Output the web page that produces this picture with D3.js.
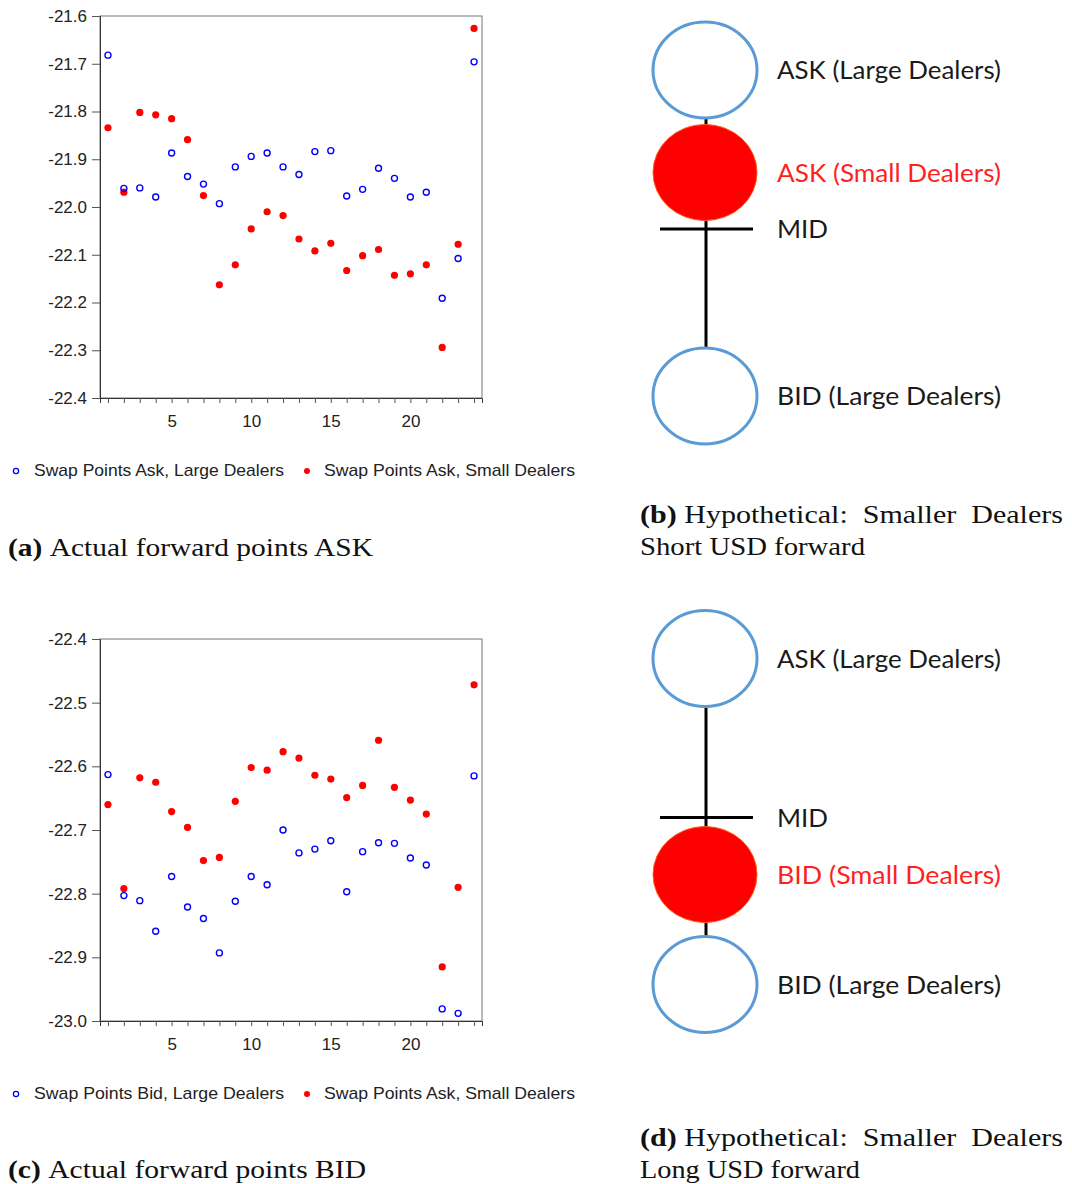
<!DOCTYPE html>
<html lang="en">
  <head>
    <meta charset="UTF-8">
    <script src="https://d3js.org/d3.v7.min.js"></script>
    <title>Forward points ASK / BID</title>
    <style>
      body { margin: 0; background: #fff; }
      svg { display: block; }
      .cap { white-space: pre; }
    </style>
  </head>
  <body>
    <div id="fig"></div>
    <script>
      // contract index 1..24
      const periods = d3.range(1, 25);

      const askLarge = [-21.682, -21.961, -21.960, -21.979, -21.887, -21.936, -21.952, -21.993, -21.916, -21.894, -21.887, -21.916,
                        -21.932, -21.884, -21.882, -21.977, -21.963, -21.919, -21.940, -21.979, -21.969, -22.191, -22.108, -21.696];
      const askSmall = [-21.834, -21.969, -21.802, -21.807, -21.815, -21.859, -21.976, -22.163, -22.121, -22.046, -22.010, -22.018,
                        -22.067, -22.092, -22.076, -22.133, -22.102, -22.089, -22.143, -22.140, -22.121, -22.294, -22.078, -21.626];
      const bidLarge = [-22.613, -22.803, -22.811, -22.859, -22.773, -22.821, -22.839, -22.893, -22.812, -22.773, -22.786, -22.700,
                        -22.736, -22.730, -22.717, -22.797, -22.734, -22.720, -22.721, -22.744, -22.755, -22.981, -22.988, -22.615];
      const bidSmall = [-22.660, -22.792, -22.618, -22.625, -22.671, -22.696, -22.748, -22.743, -22.655, -22.602, -22.606, -22.577,
                        -22.587, -22.614, -22.620, -22.649, -22.630, -22.559, -22.633, -22.653, -22.675, -22.915, -22.790, -22.472];

      const xTicks = [5, 10, 15, 20];
      const askTicks = [-21.6, -21.7, -21.8, -21.9, -22.0, -22.1, -22.2, -22.3, -22.4];
      const bidTicks = [-22.4, -22.5, -22.6, -22.7, -22.8, -22.9, -23.0];

      const askLegend = ["Swap Points Ask, Large Dealers", "Swap Points Ask, Small Dealers"];
      const bidLegend = ["Swap Points Bid, Large Dealers", "Swap Points Ask, Small Dealers"];

      // schematic levels (in "steps" below the top circle)
      const shortLevels = [
        { label: "ASK (Large Dealers)", level: 0, kind: "open" },
        { label: "ASK (Small Dealers)", level: 1.025, kind: "filled" },
        { label: "MID", level: 1.59, kind: "mid" },
        { label: "BID (Large Dealers)", level: 3.26, kind: "open" }
      ];
      const longLevels = [
        { label: "ASK (Large Dealers)", level: 0, kind: "open" },
        { label: "MID", level: 1.59, kind: "mid" },
        { label: "BID (Small Dealers)", level: 2.16, kind: "filled" },
        { label: "BID (Large Dealers)", level: 3.26, kind: "open" }
      ];

      const width = 1072;
      const height = 1184;
      const svg = d3.select("#fig").append("svg")
                    .attr("width", width)
                    .attr("height", height);

      const tickFont = "'Liberation Sans', Arial, sans-serif";
      const capFont = "'Liberation Serif', 'Times New Roman', serif";
      const diaFont = "Lato, 'Open Sans', sans-serif";

      function scatterPanel(top, bottom, domain, yTicks, large, small, legend, legendY) {
        const left = 100, right = 482;
        const x = d3.scaleLinear().domain([0.5, 24.5]).range([left, right]);
        const y = d3.scaleLinear().domain(domain).range([bottom, top]);
        const g = svg.append("g");

        g.append("rect")
         .attr("x", left).attr("y", top)
         .attr("width", right - left).attr("height", bottom - top)
         .attr("fill", "none").attr("stroke", "#777").attr("stroke-width", 1);

        const xAxis = d3.axisBottom(x)
                        .tickValues(periods)
                        .tickSize(5)
                        .tickPadding(12)
                        .tickFormat(d => xTicks.includes(d) ? d : "");
        const gx = g.append("g")
                    .attr("transform", "translate(0," + bottom + ")")
                    .call(xAxis);
        gx.select(".domain").attr("stroke", "#333");
        gx.selectAll(".tick line").attr("stroke", "#555");
        gx.selectAll("text").attr("font-family", tickFont).attr("font-size", 17).attr("fill", "#222");

        const yAxis = d3.axisLeft(y)
                        .tickValues(yTicks)
                        .tickSize(8)
                        .tickPadding(5)
                        .tickFormat(d3.format(".1f"));
        const gy = g.append("g")
                    .attr("transform", "translate(" + left + ",0)")
                    .call(yAxis);
        gy.select(".domain").attr("stroke", "#333");
        gy.selectAll(".tick line").attr("stroke", "#555");
        gy.selectAll("text").attr("font-family", tickFont).attr("font-size", 17).attr("fill", "#222")
          .text(d => d3.format(".1f")(d).replace("\u2212", "-"));

        g.append("g").selectAll("circle")
         .data(small)
         .join("circle")
         .attr("cx", (d, i) => x(periods[i]))
         .attr("cy", d => y(d))
         .attr("r", 3.6)
         .attr("fill", "#ff0000");

        g.append("g").selectAll("circle")
         .data(large)
         .join("circle")
         .attr("cx", (d, i) => x(periods[i]))
         .attr("cy", d => y(d))
         .attr("r", 3)
         .attr("fill", "none")
         .attr("stroke", "#0000ff")
         .attr("stroke-width", 1.4);

        // legend
        const lg = g.append("g").attr("font-family", tickFont).attr("font-size", 17).attr("fill", "#222");
        lg.append("circle").attr("cx", 16).attr("cy", legendY - 5).attr("r", 2.6)
          .attr("fill", "none").attr("stroke", "#0000ff").attr("stroke-width", 1.3);
        lg.append("text").attr("x", 34).attr("y", legendY).text(legend[0])
          .attr("textLength", 250).attr("lengthAdjust", "spacingAndGlyphs");
        lg.append("circle").attr("cx", 307).attr("cy", legendY - 5).attr("r", 3)
          .attr("fill", "#ff0000");
        lg.append("text").attr("x", 324).attr("y", legendY).text(legend[1])
          .attr("textLength", 251).attr("lengthAdjust", "spacingAndGlyphs");
      }

      function diagramPanel(top, levels) {
        const cx = 705;
        const y = d3.scaleLinear().domain([0, 1]).range([top, top + 100]);
        const rx = 52, ry = 48;
        const g = svg.append("g");
        const opens = levels.filter(d => d.kind === "open");

        g.append("line")
         .attr("x1", cx + 1).attr("x2", cx + 1)
         .attr("y1", y(opens[0].level) + ry).attr("y2", y(opens[1].level) - ry)
         .attr("stroke", "#000").attr("stroke-width", 3);

        levels.forEach(d => {
          if (d.kind === "mid") {
            g.append("line")
             .attr("x1", cx - 45).attr("x2", cx + 48)
             .attr("y1", y(d.level)).attr("y2", y(d.level))
             .attr("stroke", "#000").attr("stroke-width", 3);
          } else if (d.kind === "open") {
            g.append("ellipse")
             .attr("cx", cx).attr("cy", y(d.level)).attr("rx", rx).attr("ry", ry)
             .attr("fill", "#fff").attr("stroke", "#5b9bd5").attr("stroke-width", 3);
          } else {
            g.append("ellipse")
             .attr("cx", cx).attr("cy", y(d.level)).attr("rx", rx).attr("ry", ry)
             .attr("fill", "#ff0000").attr("stroke", "#ff5a1e").attr("stroke-width", 1);
          }
        });

        g.selectAll("text")
         .data(levels)
         .join("text")
         .attr("x", 777)
         .attr("y", d => y(d.level))
         .attr("dy", "0.37em")
         .attr("font-family", diaFont)
         .attr("font-size", 25)
         .attr("fill", d => d.kind === "filled" ? "#ff1f1f" : "#1a1a1a")
         .attr("textLength", d => d.kind === "mid" ? 51 : 224)
         .attr("lengthAdjust", "spacingAndGlyphs")
         .text(d => d.label);
      }

      function caption(xPos, yPos, tag, rest, len) {
        const t = svg.append("text")
                     .attr("class", "cap")
                     .attr("x", xPos).attr("y", yPos)
                     .attr("font-family", capFont)
                     .attr("font-size", 26)
                     .attr("fill", "#111")
                     .attr("textLength", len)
                     .attr("lengthAdjust", "spacingAndGlyphs");
        if (tag) t.append("tspan").attr("font-weight", "bold").text(tag + " ");
        t.append("tspan").text(rest);
      }

      scatterPanel(16, 398, [-22.4, -21.6], askTicks, askLarge, askSmall, askLegend, 476);
      scatterPanel(639, 1021, [-23.0, -22.4], bidTicks, bidLarge, bidSmall, bidLegend, 1099);

      diagramPanel(70, shortLevels);
      diagramPanel(658.5, longLevels);

      caption(8, 556, "(a)", "Actual forward points ASK", 365);
      caption(640, 523, "(b)", "Hypothetical:  Smaller  Dealers", 423);
      caption(640, 555, null, "Short USD forward", 225);
      caption(8, 1178, "(c)", "Actual forward points BID", 358);
      caption(640, 1146, "(d)", "Hypothetical:  Smaller  Dealers", 423);
      caption(640, 1178, null, "Long USD forward", 220);
    </script>
  </body>
</html>
